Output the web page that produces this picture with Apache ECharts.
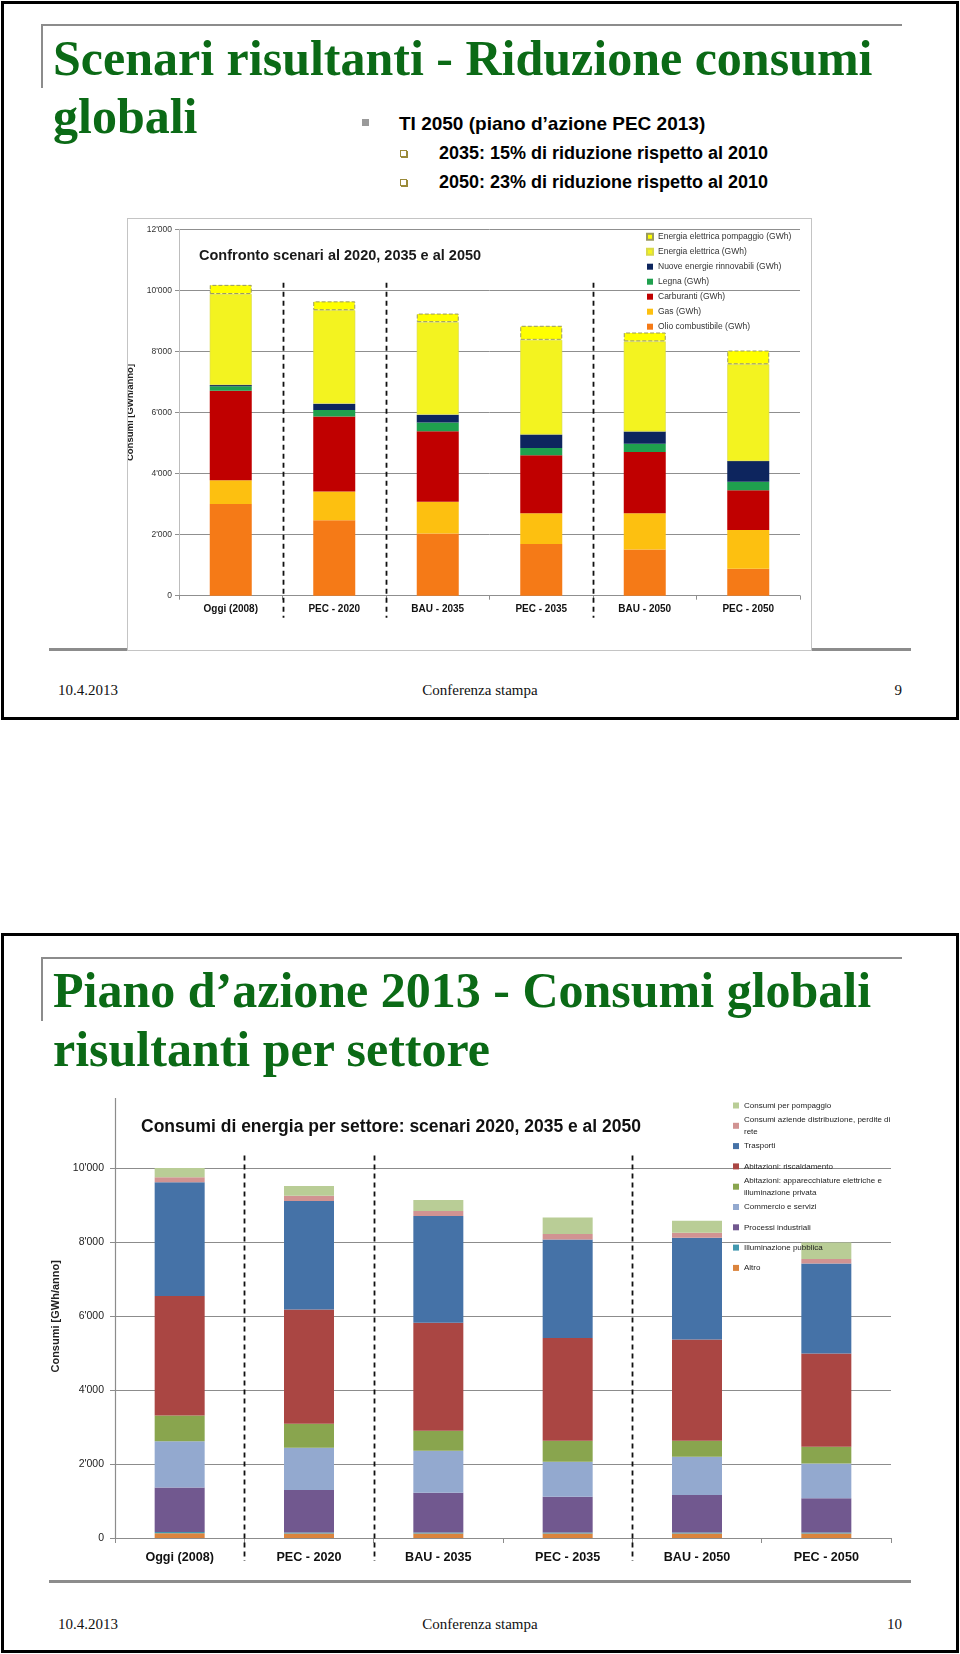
<!DOCTYPE html>
<html><head><meta charset="utf-8">
<script src="https://cdn.jsdelivr.net/npm/echarts@6/dist/echarts.min.js"></script>
<style>
html,body{margin:0;padding:0;background:#fff;}
body{width:960px;height:1654px;position:relative;overflow:hidden;}
.slide{position:absolute;left:1px;width:958px;border:3px solid #000;box-sizing:border-box;}
.hline{position:absolute;height:2px;background:#8c8c8c;}
.vline{position:absolute;width:2px;background:#8c8c8c;}
.title{position:absolute;left:53px;font-family:'Liberation Serif',serif;font-weight:bold;font-size:50px;line-height:50px;color:#0b6a16;white-space:nowrap;}
.b1{position:absolute;font-family:'Liberation Sans',Arial,sans-serif;font-weight:bold;color:#000;white-space:nowrap;}
.foot{position:absolute;font-family:'Liberation Serif',serif;font-size:15px;line-height:15px;color:#111;white-space:nowrap;}
.sq{position:absolute;width:7px;height:7px;background:#9a9a9a;}
.sq2{position:absolute;width:5px;height:5px;border:1px solid #9a8a3a;box-shadow:1px 1px 0 #9a8a3a;background:#fff;}
#c1{position:absolute;left:127px;top:218px;width:685px;height:433px;border:1px solid #c4c4c4;box-sizing:border-box;background:#fff;}
#c2{position:absolute;left:20px;top:1098px;width:900px;height:480px;}
</style></head>
<body>
<div class="slide" style="top:1px;height:719px;"></div>
<div class="slide" style="top:933px;height:720px;"></div>

<div class="hline" style="left:42px;top:24px;width:860px;"></div>
<div class="vline" style="left:41px;top:24px;height:64px;"></div>
<div class="title" style="top:33px;">Scenari risultanti - Riduzione consumi</div>
<div class="title" style="top:91px;">globali</div>
<div class="sq" style="left:362px;top:119px;"></div>
<div class="b1" style="left:399px;top:114px;font-size:19px;line-height:19px;">TI 2050 (piano d’azione PEC 2013)</div>
<div class="sq2" style="left:400px;top:150px;"></div>
<div class="b1" style="left:439px;top:144px;font-size:18px;line-height:18px;">2035: 15% di riduzione rispetto al 2010</div>
<div class="sq2" style="left:400px;top:179px;"></div>
<div class="b1" style="left:439px;top:173px;font-size:18px;line-height:18px;">2050: 23% di riduzione rispetto al 2010</div>
<div class="hline" style="left:49px;top:648px;width:862px;height:3px;"></div>
<div id="c1"></div>
<div class="foot" style="left:58px;top:683px;">10.4.2013</div>
<div class="foot" style="left:380px;width:200px;text-align:center;top:683px;">Conferenza stampa</div>
<div class="foot" style="left:802px;width:100px;text-align:right;top:683px;">9</div>

<div class="hline" style="left:42px;top:957px;width:860px;"></div>
<div class="vline" style="left:41px;top:957px;height:64px;"></div>
<div class="title" style="top:965px;">Piano d’azione 2013 - Consumi globali</div>
<div class="title" style="top:1024px;">risultanti per settore</div>
<div id="c2"></div>
<div class="hline" style="left:49px;top:1580px;width:862px;height:3px;"></div>
<div class="foot" style="left:58px;top:1617px;">10.4.2013</div>
<div class="foot" style="left:380px;width:200px;text-align:center;top:1617px;">Conferenza stampa</div>
<div class="foot" style="left:802px;width:100px;text-align:right;top:1617px;">10</div>

<script>
// ---------- shared ----------
const categories = ['Oggi (2008)', 'PEC - 2020', 'BAU - 2035', 'PEC - 2035', 'BAU - 2050', 'PEC - 2050'];
const separatorsAfter = [0, 1, 3];   // dashed separators after these category indices

// ---------- chart 1: Confronto scenari (GWh), bottom -> top ----------
const names1 = ['Olio combustibile (GWh)', 'Gas (GWh)', 'Carburanti (GWh)', 'Legna (GWh)',
  'Nuove energie rinnovabili (GWh)', 'Energia elettrica (GWh)', 'Energia elettrica pompaggio (GWh)'];
const olioCombustibile = [3000, 2470, 2040, 1690, 1510, 880];
const gasV = [780, 940, 1040, 1010, 1190, 1270];
const carburanti = [2930, 2460, 2310, 1900, 2010, 1300];
const legna = [150, 210, 280, 240, 270, 280];
const nuoveRinnovabili = [40, 210, 260, 440, 400, 680];
const energiaElettrica = [2980, 3060, 3030, 3100, 2950, 3170];
const energiaPompaggio = [300, 290, 280, 460, 290, 450];
const values1 = [olioCombustibile, gasV, carburanti, legna, nuoveRinnovabili, energiaElettrica, energiaPompaggio];
const colors1 = ['#F57A17', '#FDC010', '#C00000', '#1FA04E', '#0D255E', '#F3F320', '#FFFF00'];

// ---------- chart 2: Consumi per settore (GWh), bottom -> top ----------
const names2 = ['Altro', 'Illuminazione pubblica', 'Processi industriali', 'Commercio e servizi',
  'Abitazioni: apparecchiature elettriche e illuminazione privata', 'Abitazioni: riscaldamento',
  'Trasporti', 'Consumi aziende distribuzione, perdite di rete', 'Consumi per pompaggio'];
const legendText2 = ['Altro', 'Illuminazione pubblica', 'Processi industriali', 'Commercio e servizi',
  'Abitazioni: apparecchiature elettriche e\nilluminazione privata', 'Abitazioni: riscaldamento',
  'Trasporti', 'Consumi aziende distribuzione, perdite di\nrete', 'Consumi per pompaggio'];
const altro = [130, 120, 120, 120, 120, 120];
const illuminazionePubblica = [30, 30, 30, 30, 30, 30];
const processiIndustriali = [1206, 1150, 1076, 968, 1014, 924];
const commercioServizi = [1255, 1140, 1133, 943, 1033, 942];
const abitazioniApparecchiature = [695, 650, 542, 569, 433, 451];
const abitazioniRiscaldamento = [3231, 3096, 2924, 2780, 2744, 2528];
const trasporti = [3083, 2933, 2888, 2671, 2752, 2436];
const aziendeDistribuzione = [135, 145, 135, 145, 136, 118];
const consumiPompaggio = [250, 261, 298, 451, 325, 451];
const values2 = [altro, illuminazionePubblica, processiIndustriali, commercioServizi,
  abitazioniApparecchiature, abitazioniRiscaldamento, trasporti, aziendeDistribuzione, consumiPompaggio];
const colors2 = ['#DB843D', '#4198AF', '#71588F', '#93A9CF', '#89A54E', '#AA4643', '#4572A7', '#D19392', '#B9CD96'];

const SANS = "'Liberation Sans', Arial, sans-serif";
const fmt = v => String(v).replace(/\B(?=(\d{3})+(?!\d))/g, "'");

function separatorSeries(topValue, extendPx, lw) {
  return {
    type: 'custom', silent: true, clip: false, z: 5,
    data: separatorsAfter.map(i => [i, topValue]),
    encode: { x: 0, y: 1 },
    renderItem(params, api) {
      const idx = api.value(0);
      const top = api.coord([idx, api.value(1)]);
      const base = api.coord([idx, 0]);
      const half = api.size([1, 0])[0] / 2;
      const x = Math.round(top[0] + half) + 0.5;
      return { type: 'line', shape: { x1: x, y1: top[1], x2: x, y2: base[1] + extendPx },
        style: { stroke: '#111', lineWidth: lw, lineDash: [5, 4] } };
    }
  };
}

// ---------- chart 1 ----------
const ch1 = echarts.init(document.getElementById('c1'), null, { renderer: 'canvas' });
const grid1 = '#8f8f8f';
ch1.setOption({
  animation: false,
  backgroundColor: '#fff',
  title: { text: 'Confronto scenari al 2020, 2035 e al 2050', left: 66, top: 24,
    textStyle: { fontFamily: SANS, fontWeight: 'bold', fontSize: 14.5, color: '#1a1a1a' } },
  legend: { orient: 'vertical', left: 518, top: 12.7, padding: 0, itemGap: 5, itemWidth: 6, itemHeight: 6,
    icon: 'rect', selectedMode: false, data: names1.slice().reverse(),
    textStyle: { fontFamily: SANS, fontSize: 8.5, lineHeight: 10, color: '#333' } },
  grid: { left: 51, right: 11, top: 10.3, bottom: 54.3, outerBoundsMode: 'none', containLabel: false },
  xAxis: { type: 'category', data: categories,
    axisLine: { show: true, lineStyle: { color: grid1, width: 1 } },
    axisTick: { show: true, alignWithLabel: false, length: 4, lineStyle: { color: grid1 } },
    axisLabel: { interval: 0, margin: 9, fontFamily: SANS, fontWeight: 'bold', fontSize: 10, color: '#111' },
    splitLine: { show: false } },
  yAxis: { type: 'value', min: 0, max: 12000, interval: 2000,
    name: 'Consumi [GWh/anno]', nameLocation: 'middle', nameGap: 30,
    nameTextStyle: { fontFamily: SANS, fontWeight: 'bold', fontSize: 9.5, color: '#222' },
    axisLine: { show: true, lineStyle: { color: '#bdbdbd', width: 1 } },
    axisTick: { show: true, length: 4, lineStyle: { color: grid1 } },
    axisLabel: { formatter: fmt, margin: 7, fontFamily: SANS, fontSize: 8.5, color: '#333' },
    splitLine: { show: true, lineStyle: { color: grid1, width: 1 } } },
  series: names1.map((n, i) => ({
    name: n, type: 'bar', stack: 'tot', barWidth: 42, data: values1[i],
    itemStyle: i === 6
      ? { color: colors1[i], borderColor: '#9a9a60', borderWidth: 1, borderType: 'dashed' }
      : (i === 5 ? { color: colors1[i], borderColor: '#d9d94a', borderWidth: 0.6 } : { color: colors1[i], borderWidth: 0 })
  })).concat([separatorSeries(10250, 22, 1.8)])
});

// ---------- chart 2 ----------
const ch2 = echarts.init(document.getElementById('c2'), null, { renderer: 'canvas' });
const grid2 = '#8c8c8c';
const legendCenter0 = 7.5, legendStep = 20.3;
const legends2 = names2.map((n, si) => {
  const row = names2.length - 1 - si;
  const multi = legendText2[si].indexOf('\n') >= 0;
  const c = legendCenter0 + row * legendStep;
  return {
    orient: 'vertical', left: 713, top: multi ? c - 17.25 : c - 5.75, padding: 0,
    itemWidth: 6, itemHeight: 6, itemGap: 0, icon: 'rect', selectedMode: false,
    data: [{ name: n, textStyle: multi ? { padding: [11.5, 0, 0, 0] } : {} }],
    formatter: name => legendText2[names2.indexOf(name)],
    textStyle: { fontFamily: SANS, fontSize: 8, lineHeight: 11.5, color: '#222' }
  };
});
ch2.setOption({
  animation: false,
  backgroundColor: 'transparent',
  title: { text: 'Consumi di energia per settore: scenari 2020, 2035 e al 2050', left: 116, top: 15,
    textStyle: { fontFamily: SANS, fontWeight: 'bold', fontSize: 17.5, color: '#111' } },
  legend: legends2,
  grid: { left: 95, right: 29, top: -3.4, bottom: 40, outerBoundsMode: 'none', containLabel: false },
  xAxis: { type: 'category', data: categories,
    axisLine: { show: true, lineStyle: { color: grid2, width: 1.2 } },
    axisTick: { show: true, alignWithLabel: false, length: 5, lineStyle: { color: grid2 } },
    axisLabel: { interval: 0, margin: 13, fontFamily: SANS, fontWeight: 'bold', fontSize: 12.6, color: '#111' },
    splitLine: { show: false } },
  yAxis: { type: 'value', min: 0, max: 12000, interval: 2000,
    name: 'Consumi [GWh/anno]', nameLocation: 'middle', nameGap: 48,
    nameTextStyle: { fontFamily: SANS, fontWeight: 'bold', fontSize: 11, color: '#222' },
    axisLine: { show: true, lineStyle: { color: grid2, width: 1.2 } },
    axisTick: { show: true, length: 5, lineStyle: { color: grid2 } },
    axisLabel: { formatter: fmt, margin: 11, fontFamily: SANS, fontSize: 10.5, color: '#222' },
    splitLine: { show: true, lineStyle: { color: grid2, width: 1.2 } } },
  series: names2.map((n, i) => ({
    name: n, type: 'bar', stack: 'tot', barWidth: 50, data: values2[i],
    itemStyle: { color: colors2[i], borderWidth: 0 }
  })).concat([separatorSeries(10350, 23, 1.8)])
});
</script>
</body></html>
